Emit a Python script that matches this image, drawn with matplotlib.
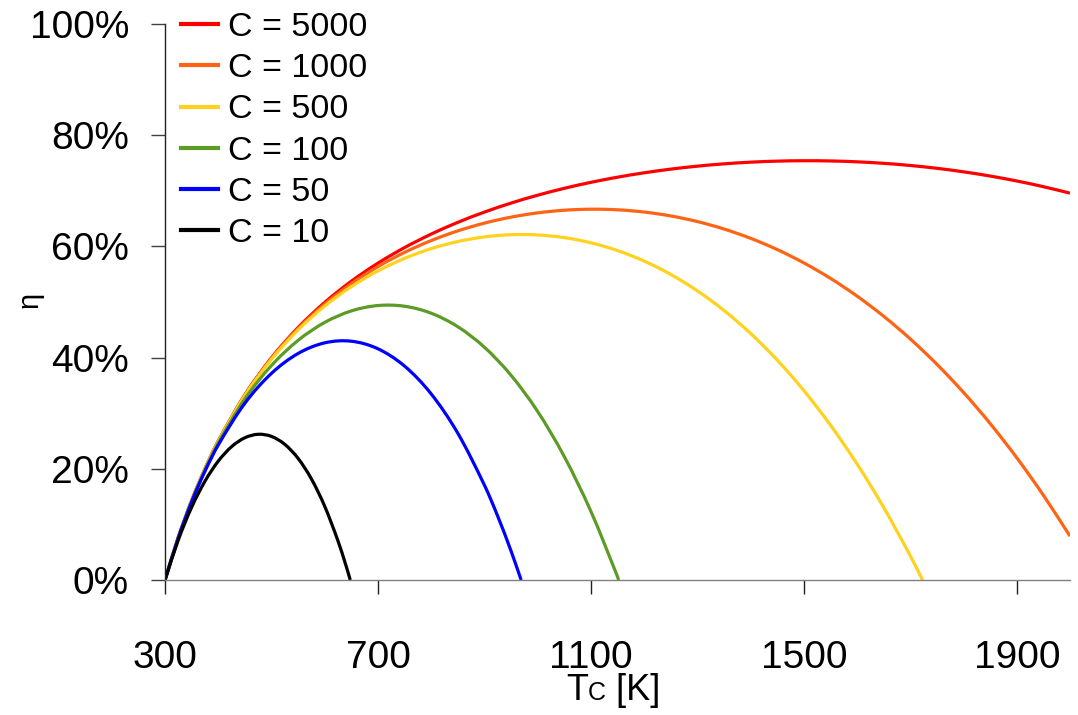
import matplotlib
matplotlib.use("Agg")
import matplotlib.pyplot as plt
from matplotlib.ticker import PercentFormatter, FixedLocator
from matplotlib.offsetbox import TextArea, HPacker, AnnotationBbox
from matplotlib.path import Path
from matplotlib.patches import PathPatch
from matplotlib.lines import Line2D

plt.rcParams['font.family'] = ['Liberation Sans', 'DejaVu Sans']

# Receiver temperature samples [K]
T_full = [300, 325, 350, 375, 400, 450, 500, 550, 600, 650, 700, 750, 800, 850,
          900, 950, 1000, 1050, 1100, 1150, 1200, 1250, 1300, 1350, 1400, 1450,
          1500, 1550, 1600, 1650, 1700, 1750, 1800, 1850, 1900, 1950, 2000]
T_500 = T_full[:31] + [1723]
T_100 = T_full[:20] + [1152]
T_50 = T_full[:15] + [925, 950, 969]
T_10 = [300, 325, 350, 375, 400, 425, 450, 475, 500, 525, 550, 575, 600, 625, 640, 648]

# System efficiency for each concentration ratio
eta_5000 = [0.0, 0.076913, 0.142833, 0.199955, 0.249927, 0.333178, 0.399717, 0.454074,
            0.499265, 0.537372, 0.569873, 0.597847, 0.622097, 0.643229, 0.661707,
            0.677891, 0.692062, 0.704440, 0.715198, 0.724470, 0.732364, 0.738959,
            0.744317, 0.748482, 0.751486, 0.753346, 0.754073, 0.753666, 0.752116,
            0.749412, 0.745530, 0.740446, 0.734131, 0.726547, 0.717655, 0.707414,
            0.695776]
eta_1000 = [0.0, 0.076874, 0.142735, 0.199776, 0.249637, 0.332558, 0.398583, 0.452187,
            0.496326, 0.533012, 0.563649, 0.589236, 0.610485, 0.627907, 0.641866,
            0.652612, 0.660310, 0.665058, 0.666899, 0.665831, 0.661820, 0.654795,
            0.644661, 0.631299, 0.614571, 0.594318, 0.570365, 0.542522, 0.510584,
            0.474333, 0.433535, 0.387950, 0.337322, 0.281383, 0.219857, 0.152456,
            0.078880]
eta_500 = [0.0, 0.076826, 0.142614, 0.199551, 0.249274, 0.331783, 0.397165, 0.449828,
           0.492652, 0.527562, 0.555870, 0.578472, 0.595970, 0.608756, 0.617065,
           0.621014, 0.620620, 0.615829, 0.606525, 0.592533, 0.573641, 0.549589,
           0.520091, 0.484820, 0.443427, 0.395533, 0.340730, 0.278592, 0.208668,
           0.130484, 0.043542, 0.0]
eta_100 = [0.0, 0.076437, 0.141642, 0.197757, 0.246371, 0.325583, 0.385825, 0.430962,
           0.463258, 0.483963, 0.493636, 0.492359, 0.479848, 0.455544, 0.418661,
           0.368225, 0.303100, 0.222005, 0.123531, 0.006144, 0.0]
eta_50 = [0.0, 0.075950, 0.140426, 0.195515, 0.242742, 0.317833, 0.371650, 0.407378,
          0.426517, 0.429463, 0.415843, 0.384718, 0.334696, 0.264028, 0.170655,
          0.114734, 0.052240, 0.0]
eta_10 = [0.0, 0.072057, 0.130702, 0.177575, 0.213712, 0.239710, 0.255831, 0.262080,
          0.258250, 0.243966, 0.218709, 0.181831, 0.132584, 0.070110, 0.025889, 0.0]

labels = ["C = 5000", "C = 1000", "C = 500", "C = 100", "C = 50", "C = 10"]
colors = ["#FF0000", "#FF6414", "#FFD21E", "#5B9B26", "#0000FF", "#000000"]
series = [(T_full, eta_5000), (T_full, eta_1000), (T_500, eta_500),
          (T_100, eta_100), (T_50, eta_50), (T_10, eta_10)]

x_ticks = [300, 700, 1100, 1500, 1900]
y_ticks = [0.0, 0.2, 0.4, 0.6, 0.8, 1.0]


def smooth_path(xs, ys):
    """Smoothed line through the samples, drawn as cubic Bezier segments."""
    n = len(xs)
    slopes = []
    for i in range(n):
        a = max(i - 1, 0)
        b = min(i + 1, n - 1)
        slopes.append((ys[b] - ys[a]) / (xs[b] - xs[a]))
    verts = [(xs[0], ys[0])]
    codes = [Path.MOVETO]
    for i in range(n - 1):
        h = xs[i + 1] - xs[i]
        verts += [(xs[i] + h / 3, ys[i] + slopes[i] * h / 3),
                  (xs[i + 1] - h / 3, ys[i + 1] - slopes[i + 1] * h / 3),
                  (xs[i + 1], ys[i + 1])]
        codes += [Path.CURVE4] * 3
    return Path(verts, codes)


fig = plt.figure(figsize=(10.78, 7.15), dpi=100)
ax = fig.add_axes([165 / 1078, 1 - 580 / 715, (1070 - 165) / 1078, (580 - 24) / 715])

handles = []
for (t, e), lab, col in zip(series, labels, colors):
    ax.add_patch(PathPatch(smooth_path(t, e), facecolor="none", edgecolor=col,
                           lw=2.3, capstyle="butt", joinstyle="round"))
    handles.append(Line2D([], [], color=col, lw=3.0, label=lab))

ax.set_xlim(300, 2000)
ax.set_ylim(0, 1.0)
ax.xaxis.set_major_locator(FixedLocator(x_ticks))
ax.yaxis.set_major_locator(FixedLocator(y_ticks))
ax.yaxis.set_major_formatter(PercentFormatter(1.0, decimals=0))

for side in ("top", "right"):
    ax.spines[side].set_visible(False)
ax.spines["left"].set_color("#202020")
ax.spines["bottom"].set_color("#808080")
for sp in ax.spines.values():
    sp.set_linewidth(1.0)

ax.tick_params(axis="y", direction="out", length=10, width=1.0, color="#404040",
               labelsize=28, pad=16)
ax.tick_params(axis="x", direction="out", length=10, width=1.0, color="#202020",
               labelsize=28, pad=33)

ax.legend(handles=handles, loc="upper left", bbox_to_anchor=(181 / 1078, 1 - 12 / 715),
          bbox_transform=fig.transFigure, frameon=False, fontsize=24.5,
          handlelength=1.1, handletextpad=0.28, labelspacing=0.30,
          borderpad=0, borderaxespad=0)

# y-axis label
fig.text(30 / 1078, 1 - 300 / 715, "η", rotation=90, fontsize=21,
         ha="center", va="center")

# x-axis label with small-capital C
parts = [TextArea("T", textprops=dict(fontsize=26)),
         TextArea("C", textprops=dict(fontsize=18)),
         TextArea(" [K]", textprops=dict(fontsize=26))]
box = HPacker(children=parts, align="baseline", pad=0, sep=0)
ab = AnnotationBbox(box, (613 / 1078, 1 - 690 / 715), xycoords="figure fraction",
                    frameon=False, box_alignment=(0.5, 0.5))
fig.add_artist(ab)

fig.savefig("out.png", dpi=100)
